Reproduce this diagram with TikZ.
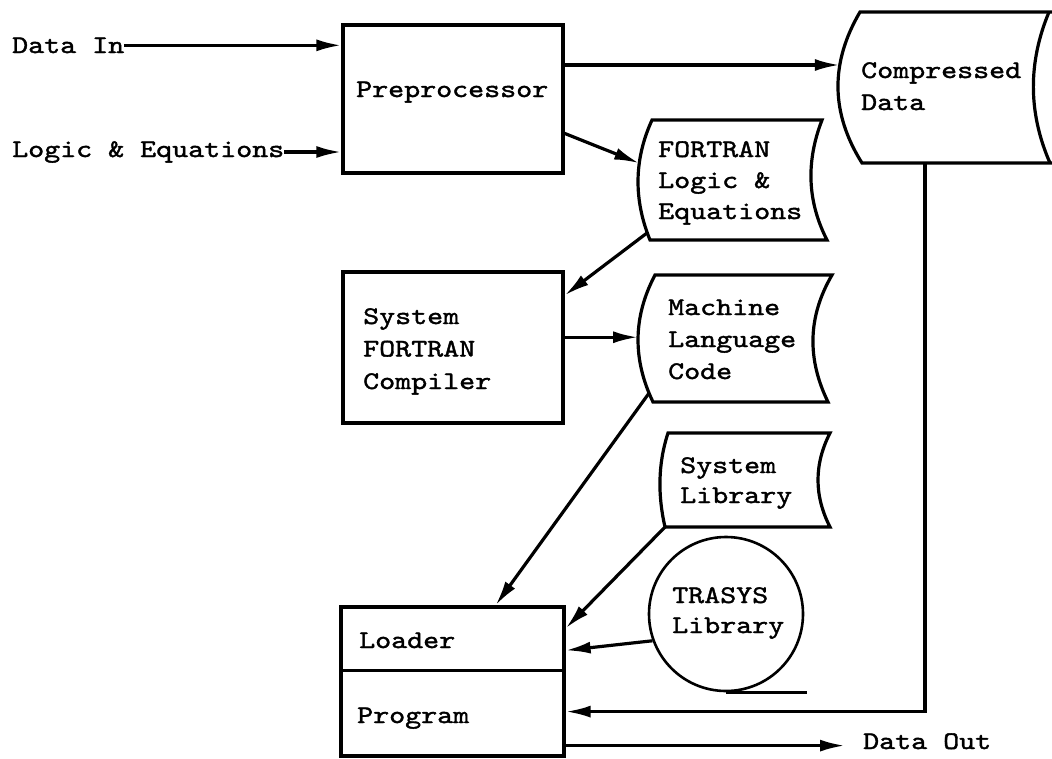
\documentclass[tikz,border=0pt]{standalone}
\usepackage{fontspec}
\usetikzlibrary{arrows.meta,calc}
\newfontfamily\typewriter{lmmono10-regular.otf}[FakeStretch=1.2,FakeBold=1.5]

\begin{document}
\begin{tikzpicture}[x=1pt,y=-1pt,
  % multi-line labels are placed at the baseline of their last line
  lbl/.style={anchor=base west, inner sep=0pt, align=left,
    font=\typewriter\fontsize{25.4}{32}\selectfont},
  box/.style={draw, rectangle, line width=3.2pt, inner sep=0pt},
  outline/.style={line width=3.2pt, line join=miter},
  flow/.style={line width=3.2pt, -{Latex[length=25pt,width=12pt]}},
  plain/.style={line width=3.2pt},
]
\useasboundingbox (0,0) rectangle (1052,758);

% ---- process boxes ----
\node[box, minimum width=220pt, minimum height=148pt] (pre)  at (453,99) {};
\node[box, minimum width=220pt, minimum height=151pt] (comp) at (453,347.5) {};
\node[box, minimum width=223pt, minimum height=149pt] (load) at (452.5,681.5) {};
\draw[plain] ($(load.north west)+(0,65)$) -- ($(load.north east)+(0,65)$);
\node[draw, circle, line width=2.6pt, inner sep=0pt, minimum size=154pt] (trasys) at (726,614) {};
\draw[plain] (trasys.south) -- ++(81,0);

% ---- stored data shapes ----
% compressed data (runs off the right edge)
\draw[outline] (1052,12) -- (860,12)
  .. controls (830.3,62.3) and (830.3,112.7) .. coordinate[pos=0.351] (cd-in) (862,163)
  -- coordinate[pos=0.332] (cd-out) (1052,163);
\draw[outline] (1049,12) .. controls (1028,62.3) and (1028,112.7) .. (1050,163);
% FORTRAN logic and equations
\draw[outline] (652,120) -- (822,120)
  .. controls (806.5,160) and (806.5,200) .. (827,240) -- (650,240)
  .. controls (633.7,200) and (633.7,160) .. coordinate[pos=0.06] (fle-out)
     coordinate[pos=0.64] (fle-in) (652,120) -- cycle;
% machine language code
\draw[outline] (655,275) -- (832,275)
  .. controls (807.3,317.3) and (807.3,359.7) .. (828,402) -- (653,402)
  .. controls (632.7,359.7) and (632.7,317.3) .. coordinate[pos=0.07] (mlc-out)
     coordinate[pos=0.51] (mlc-in) (655,275) -- cycle;
% system library
\draw[outline] (668,433) -- (830,433)
  .. controls (814,464.3) and (814,495.7) .. (830,527) -- coordinate[pos=1] (sl-out) (665,527)
  .. controls (657.8,495.7) and (657.8,464.3) .. (668,433) -- cycle;

% ---- labels ----
\node[lbl] (datain) at (12,53) {Data In};
\node[lbl] (logic)  at (12,157) {Logic \& Equations};
\node[lbl] (pretxt) at (356,97) {Preprocessor};
\node[lbl] (cdtxt)  at (861,110) {Compressed\\Data};
\node[lbl, font=\typewriter\fontsize{25.4}{31}\selectfont] (fletxt) at (658,219) {FORTRAN\\Logic \&\\Equations};
\node[lbl, font=\typewriter\fontsize{25.4}{32.5}\selectfont] (comptxt) at (363,389) {System\\FORTRAN\\Compiler};
\node[lbl] (mlctxt) at (668,379) {Machine\\Language\\Code};
\node[lbl, font=\typewriter\fontsize{25.4}{30}\selectfont] (sltxt) at (680,503) {System\\Library};
\node[lbl, font=\typewriter\fontsize{25.4}{30}\selectfont] (trtxt) at (672,633) {TRASYS\\Library};
\node[lbl] (loadtxt) at (359,648) {Loader};
\node[lbl] (progtxt) at (357,723) {Program};
\node[lbl] (dataout) at (863,749) {Data Out};

% ---- connectors ----
\draw[flow] (datain.east) -- (datain.east -| pre.west);
\draw[flow] (logic.east) -- (logic.east -| pre.west);
\draw[flow] (cd-in -| pre.east) -- (cd-in);
\draw[flow] ($(pre.north east)+(0,110)$) -- (fle-in);
\draw[flow] (fle-out) -- ($(comp.north east)+(0,25)$);
\draw[flow] (mlc-in -| comp.east) -- (mlc-in);
\draw[flow] (mlc-out) -- ($(load.north)+(43,0)$);
\draw[flow] (sl-out) -- ($(load.north east)+(0,23)$);
\draw[flow] (trasys.200) -- ($(load.north east)+(0,45)$);
\coordinate (prog-in) at ($(load.south east)+(0,-46)$);
\draw[flow] (cd-out) |- (prog-in);
\coordinate (prog-out) at ($(load.south east)+(0,-12)$);
\draw[flow, shorten >=18pt] (prog-out) -- (prog-out -| dataout.west);
\end{tikzpicture}
\end{document}
